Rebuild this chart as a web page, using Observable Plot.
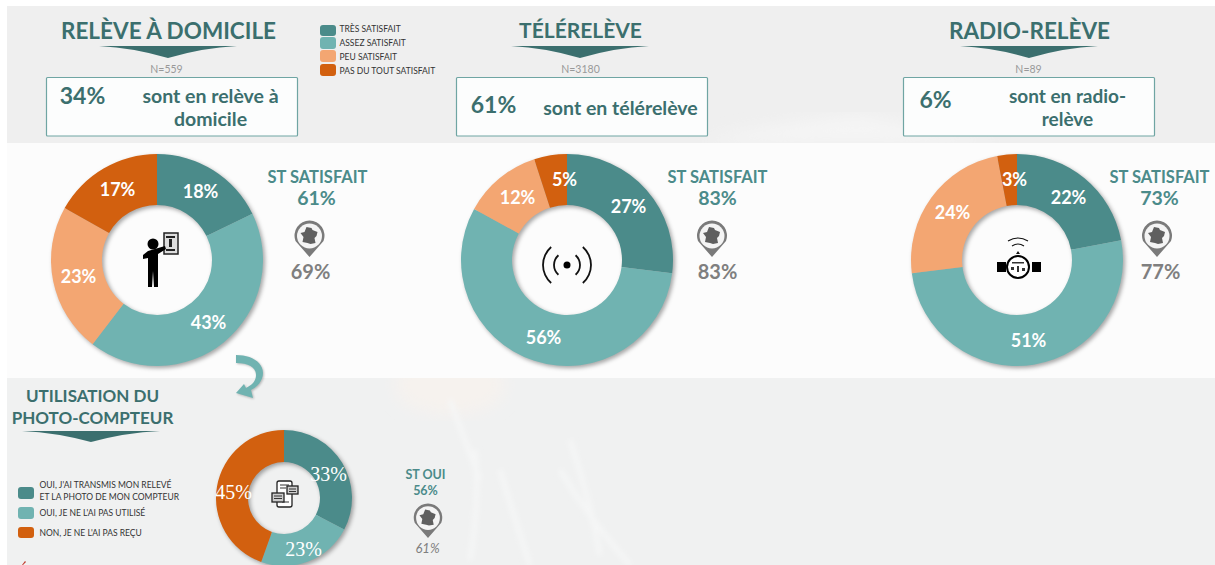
<!DOCTYPE html>
<html><head><meta charset="utf-8">
<script src="https://cdn.jsdelivr.net/npm/d3@7"></script>
<script src="https://cdn.jsdelivr.net/npm/@observablehq/plot@0.6"></script>
<style>html,body{margin:0;padding:0;background:#fff;overflow:hidden}svg{display:block}</style>
</head><body><div id="chart"></div>
<script>
// ---- data ----
const legendSat = ["TRÈS SATISFAIT","ASSEZ SATISFAIT","PEU SATISFAIT","PAS DU TOUT SATISFAIT"];
const legendPhoto = ["OUI, J'AI TRANSMIS MON RELEVÉ","OUI, JE NE L'AI PAS UTILISÉ","NON, JE NE L'AI PAS REÇU"];
const domicile = [18,43,23,17];
const telereleve = [27,56,12,5];
const radioreleve = [22,51,24,3];
const photo = [33,23,45];
const titles = ["RELÈVE À DOMICILE","TÉLÉRELÈVE","RADIO-RELÈVE"];
const sampleSizes = ["N=559","N=3180","N=89"];
const shares = ["34%","61%","6%"];
const stSatisfait = ["61%","83%","73%"];
const france = ["69%","83%","77%"];

// ---- layout ----
const teal="#3b6f6e", tealMid="#4b8b8a", grey="#7f7f7f";
const colors=["#4b8b8a","#70b3b1","#f3a672","#d2600f"];
const font="Lato, 'Open Sans', sans-serif";
const cols=[
 {cx:157,cy:260,R:106,r:55,values:domicile,keys:legendSat,lx:[200,208,78,117],ly:[192,323,277,190]},
 {cx:567,cy:260,R:106,r:55,values:telereleve,keys:legendSat,lx:[628,543,517,564],ly:[207,338,198,180]},
 {cx:1017,cy:260,R:106,r:55,values:radioreleve,keys:legendSat,lx:[1068,1028,952,1014],ly:[198,341,213,180]},
 {cx:284,cy:498,R:68,r:36,values:photo,keys:legendPhoto,lx:[328,303,233],ly:[474,549,492]}
];
const slices=cols.flatMap((c,k)=>{
  const arcs=d3.pie().sort(null)(c.values);
  return arcs.map((a,i)=>({donut:k,key:c.keys[i],value:c.values[i],cx:c.cx,cy:c.cy,R:c.R,r:c.r,a0:a.startAngle,a1:a.endAngle,lx:c.lx[i],ly:c.ly[i]}));
});
function donutRender(index,scales,values){
  const g=d3.create("svg:g");
  for(const k of d3.range(cols.length)){
    const gg=g.append("g").style("filter","drop-shadow(2px 2px 2px rgba(0,0,0,.35))");
    for(const i of index){
      const d=slices[i]; if(d.donut!==k) continue;
      gg.append("path").attr("fill",values.fill[i])
        .attr("transform",`translate(${values.x[i]},${values.y[i]})`)
        .attr("d",d3.arc()({innerRadius:d.r,outerRadius:d.R,startAngle:d.a0,endAngle:d.a1}));
    }
  }
  return g.node();
}
const rect=(x1,y1,x2,y2,o)=>Plot.rect([0],{x1:()=>x1,x2:()=>x2,y1:()=>y1,y2:()=>y2,...o});
const txt=(t,x,y,o)=>Plot.text([t],{x:()=>x,y:()=>y,text:d=>d,fontFamily:font,lineAnchor:"middle",...o});
// free-form decoration (icons), positioned through the position scales
const shape=(x,y,k,build)=>(i,s)=>{
  const g=d3.create("svg:g").attr("transform",`translate(${s.x(x)},${s.y(y)}) scale(${k})`);
  build(g);return g.node();
};
const tri=(x1,x2,y1,y2)=>shape((x1+x2)/2,y1,1,g=>{
  const w=(x2-x1)/2,h=y2-y1;
  g.append("path").attr("fill",teal).attr("d",`M${-w},0Q${-w/2},${h*.15} 0,${h}Q${w/2},${h*.15} ${w},0Z`);
});
const FR="M-3,-9L2,-8L3,-6L8,-4L7,0L5,2L6,7L1,8L-2,7L-7,6L-6,1L-9,-3L-5,-4Z";
const pin=(x,y,k)=>shape(x,y,k,g=>{
  g.append("path").attr("fill","#7a7a7a").attr("d","M-14,5A15,15 0 1 1 14,5L0,21Z");
  g.append("circle").attr("r",12.5).attr("fill","#f4f4f4");
  g.append("path").attr("fill","#5f5f5f").attr("d",FR);
});
const person=shape(153,244,1,g=>{
  g.append("rect").attr("x",11).attr("y",-11).attr("width",14).attr("height",21).attr("fill","#ddd").attr("stroke","#222").attr("stroke-width",1.5);
  g.append("path").attr("fill","#222").attr("d","M13,-8h9v2h-9zM16,-5h3v8h-3zM13,5h9v2h-9z");
  g.append("circle").attr("r",5.5).attr("fill","#000");
  g.append("path").attr("fill","#000").attr("d","M-5,7L12,2L13,5L5,10L5,27L5,43H1L0,27L-1,43H-5L-5,14L-10,15V11Z");
});
const radio=shape(567,265,1,g=>{
  g.append("circle").attr("r",3.5).attr("fill","#000");
  const arc=(r,a)=>d3.arc()({innerRadius:r-.9,outerRadius:r+.9,startAngle:a-.85,endAngle:a+.85});
  for(const r of [13,24]) for(const a of [Math.PI/2,-Math.PI/2])
    g.append("path").attr("fill","#111").attr("d",arc(r,a));
});
const meter=shape(1018,267,1,g=>{
  g.append("path").attr("fill","#000").attr("d","M-21,-5h9v10h-9zM14,-5h9v10h-9z");
  g.append("circle").attr("r",11).attr("fill","#fff").attr("stroke","#000").attr("stroke-width",2);
  g.append("path").attr("fill","#333").attr("d","M-6,-5h12v1.5h-12zM-7,0h3v3h-3zM-1,-1h2v6h-2zM4,1h3v3h-3z");
  g.append("path").attr("fill","none").attr("stroke","#111").attr("stroke-width",1.1).attr("d","M-10,-26Q0,-32 10,-26M-6,-21Q0,-25 6,-21");
  g.append("path").attr("fill","#111").attr("d","M-2,-13L0,-16L2,-13Z");
});
const phone=shape(285,494,1,g=>{
  g.append("rect").attr("x",-8).attr("y",-13).attr("width",15).attr("height",26).attr("rx",2).attr("fill","#fff").attr("stroke","#222").attr("stroke-width",1.3);
  g.append("path").attr("stroke","#333").attr("stroke-width",1).attr("d","M-5,-9h9M-5,-6h6M-3,8h7");
  for(const [x,y,w,h] of [[2,-8,11,8],[-13,-1,12,9]]){
    g.append("rect").attr("x",x).attr("y",y).attr("width",w).attr("height",h).attr("fill","#ccc").attr("stroke","#222").attr("stroke-width",1.3);
    g.append("path").attr("stroke","#333").attr("stroke-width",1).attr("d",`M${x+2},${y+3}h${w-4}M${x+2},${y+5.5}h${w-4}`);
  }
});
const curve=shape(236,356,1,g=>{
  g.append("path").attr("fill","#70b3b1").style("filter","drop-shadow(1px 1px 1px rgba(0,0,0,.25))")
   .attr("d","M0,-1C15,-1 27,6 27,17C27,25 21,31 15,34L17,42L0,37L8,28L10,32C16,29 20,25 20,19C20,11 12,7 0,7Z");
});
const tick=shape(22,561,1,g=>{
  g.append("path").attr("fill","#c0392b").attr("d","M0,4L3,0L4,1L1,4Z");
});
// faint splash texture of the photographic background
const splash=(i,s)=>{
  const g=d3.create("svg:g").attr("transform",`translate(${s.x(0)},${s.y(0)})`);
  g.append("defs").append("filter").attr("id","soft").append("feGaussianBlur").attr("stdDeviation",8);
  g.append("defs").append("filter").attr("id","soft2").append("feGaussianBlur").attr("stdDeviation",2.5);
  g.append("ellipse").attr("cx",450).attr("cy",385).attr("rx",55).attr("ry",30).attr("fill","#f6f2ee").attr("filter","url(#soft)");
  g.append("path").attr("fill","none").attr("stroke","#f5f6f6").attr("stroke-width",5).attr("filter","url(#soft2)")
   .attr("d","M475,450Q480,500 470,560M500,470Q515,520 530,565M560,470Q590,520 630,565M570,440Q590,500 600,555M450,400Q465,440 480,480");
  g.append("path").attr("fill","#f5f5f5").attr("filter","url(#soft)").attr("d","M700,143Q760,125 860,115L1000,143Z");
  return g.node();
};

const chart=Plot.plot({
  width:1215,height:565,margin:0,
  x:{domain:[0,1215],range:[0,1215],axis:null},
  y:{domain:[0,565],range:[0,565],axis:null},
  color:{domain:[...legendSat,...legendPhoto],range:[...colors,colors[0],colors[1],colors[3]]},
  style:{background:"#fff",fontFamily:font},
  marks:[
    rect(7,6,1215,143,{fill:"#efefef"}),
    rect(7,378,1215,565,{fill:"#f0f1f1"}),
    splash,
    rect(7,143,1215,378,{fill:"#fcfcfc"}),
    // titles
    ...titles.map((t,i)=>txt(t,[168,580,1029][i],31,{fontSize:[22.5,21,22.5][i],fontWeight:700,fill:teal})),
    ...[[99,237],[511,649],[960,1098]].map(([a,b])=>tri(a,b,46,58)),
    ...sampleSizes.map((t,i)=>txt(t,[166,580,1028][i],69,{fontSize:10.5,fill:"#999"})),
    // boxes
    ...[46.5,456.5,903.5].map(x=>rect(x,77.5,x+251,136,{fill:"#fcfdfd",stroke:"#6fa5a3",strokeWidth:1.2,rx:1})),
    ...shares.map((t,i)=>txt(t,[82,493,935][i],[96,105,100][i],{fontSize:23,fontWeight:700,fill:teal})),
    txt("sont en relève à",210,96,{fontSize:19.5,fontWeight:700,fill:teal}),
    txt("domicile",210,119,{fontSize:19.5,fontWeight:700,fill:teal}),
    txt("sont en télérelève",620,108,{fontSize:19.5,fontWeight:700,fill:teal}),
    txt("sont en radio-",1067,96,{fontSize:19,fontWeight:700,fill:teal}),
    txt("relève",1067,119,{fontSize:19,fontWeight:700,fill:teal}),
    // legend 1
    ...legendSat.map((t,i)=>rect(320,[25,37,50,64][i],336,[36,49,62,76][i],{fill:colors[i],rx:3})),
    ...legendSat.map((t,i)=>txt(t,339,[29,43,57,71][i],{fontSize:8.5,fill:"#333",textAnchor:"start"})),
    // donuts
    Plot.dot(slices,{x:"cx",y:"cy",fill:"key",r:1,render:donutRender}),
    Plot.text(slices.filter(d=>d.donut<3),{x:"lx",y:"ly",text:d=>d.value+"%",fill:"#fff",fontSize:18,fontWeight:700,fontFamily:font,lineAnchor:"middle"}),
    Plot.text(slices.filter(d=>d.donut===3),{x:"lx",y:"ly",text:d=>d.value+"%",fill:"#fff",fontSize:20,fontFamily:"'Liberation Serif',serif",lineAnchor:"middle"}),
    // side figures
    ...[317,717,1159].map(x=>txt("ST SATISFAIT",x,177,{fontSize:16.5,fontWeight:700,fill:tealMid})),
    ...stSatisfait.map((t,i)=>txt(t,[316,717,1159][i],198,{fontSize:19.5,fontWeight:700,fill:tealMid})),
    ...[309.5,712,1157].map(x=>pin(x,236,1)),
    ...france.map((t,i)=>txt(t,[310,717,1160][i],272,{fontSize:20,fontWeight:700,fill:grey})),
    person,radio,meter,phone,curve,tick,
    // photo section
    txt("UTILISATION DU",92,396,{fontSize:17,fontWeight:700,fill:teal}),
    txt("PHOTO-COMPTEUR",92,418,{fontSize:17,fontWeight:700,fill:teal}),
    tri(22,160,431,442),
    ...[[487,499],[507,519],[527,538]].map(([a,b],i)=>rect(18,a,34,b,{fill:[colors[0],colors[1],colors[3]][i],rx:3})),
    txt(legendPhoto[0],39,485,{fontSize:8.5,fill:"#333",textAnchor:"start"}),
    txt("ET LA PHOTO DE MON COMPTEUR",39,497,{fontSize:8.5,fill:"#333",textAnchor:"start"}),
    txt(legendPhoto[1],39,513,{fontSize:8.5,fill:"#333",textAnchor:"start"}),
    txt(legendPhoto[2],39,533,{fontSize:8.5,fill:"#333",textAnchor:"start"}),
    txt("ST OUI",425,474,{fontSize:12.5,fontWeight:700,fill:tealMid}),
    txt("56%",425,490,{fontSize:12.5,fontWeight:700,fill:tealMid}),
    pin(428,518,.95),
    txt("61%",427,548,{fontSize:13,fontStyle:"italic",fill:grey}),
  ]
});
document.getElementById("chart").append(chart);
</script></body></html>
